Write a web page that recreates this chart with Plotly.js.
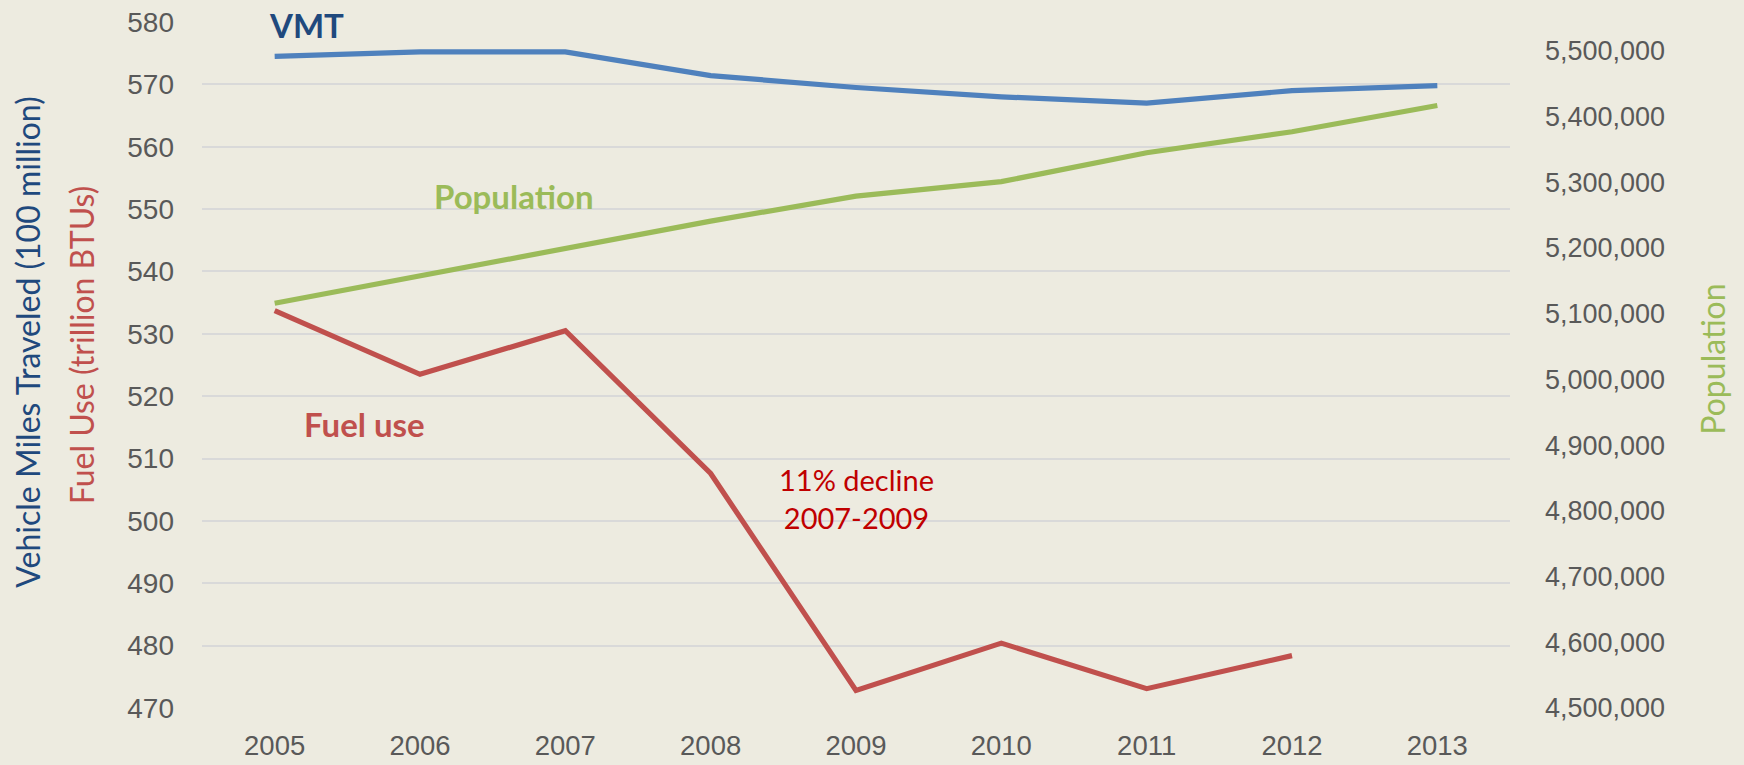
<!DOCTYPE html>
<html>
<head>
<meta charset="utf-8">
<script src="https://cdn.plot.ly/plotly-3.0.1.min.js"></script>
<style>
  html, body { margin: 0; padding: 0; background: #EDEBE0; }
  #chart { width: 1744px; height: 765px; }
</style>
</head>
<body>
<div id="chart"></div>
<script>
// ---- Data ----
const years = ['2005', '2006', '2007', '2008', '2009', '2010', '2011', '2012', '2013'];
const vmt = [574.5, 575.2, 575.2, 571.4, 569.5, 568.0, 567.0, 569.0, 569.8];          // 100 million miles
const fuelUse = [533.7, 523.5, 530.5, 507.6, 472.8, 480.4, 473.1, 478.4, null];         // trillion BTUs
const population = [5116000, 5158000, 5200000, 5241000, 5279000, 5301000, 5345000, 5377000, 5417000];

const leftTicks = [470, 480, 490, 500, 510, 520, 530, 540, 550, 560, 570, 580];
const rightTicks = [4500000, 4600000, 4700000, 4800000, 4900000, 5000000, 5100000, 5200000, 5300000, 5400000, 5500000];

// ---- Styles ----
const BG = '#EDEBE0';
const C_VMT = '#4F81BD', C_VMT_TXT = '#1F497D';
const C_POP = '#9BBB59';
const C_FUEL = '#C0504D';
const C_NOTE = '#C00000';
const TICK = '#595959';
const LW = 5.2;
const LABEL_FONT = 'Lato, "Open Sans", sans-serif';
const TICK_FONT = '"Liberation Sans", Arial, sans-serif';

const traces = [
  { x: years, y: vmt, type: 'scatter', mode: 'lines', name: 'VMT',
    line: { color: C_VMT, width: LW }, yaxis: 'y' },
  { x: years, y: population, type: 'scatter', mode: 'lines', name: 'Population',
    line: { color: C_POP, width: LW }, yaxis: 'y2' },
  { x: years, y: fuelUse, type: 'scatter', mode: 'lines', name: 'Fuel use',
    line: { color: C_FUEL, width: LW }, yaxis: 'y', connectgaps: false }
];

const layout = {
  width: 1744, height: 765,
  paper_bgcolor: BG, plot_bgcolor: BG,
  showlegend: false,
  margin: { l: 202, r: 234, t: 22, b: 57, pad: 0 },
  xaxis: {
    type: 'category', range: [-0.5, 8.5],
    showgrid: false, zeroline: false, showline: false, ticks: '',
    tickfont: { family: TICK_FONT, size: 27.5, color: TICK },
    ticklabelstandoff: 18
  },
  yaxis: {
    range: [470, 580], tickvals: leftTicks,
    showgrid: true, gridcolor: '#D9D9D9', gridwidth: 2,
    zeroline: false, showline: false, ticks: '',
    tickfont: { family: TICK_FONT, size: 28, color: TICK },
    ticklabelstandoff: 27
  },
  yaxis2: {
    overlaying: 'y', side: 'right',
    range: [4500000, 5544000], tickvals: rightTicks, tickformat: ',d',
    showgrid: false, zeroline: false, showline: false, ticks: '',
    tickfont: { family: TICK_FONT, size: 27, color: TICK },
    ticklabelstandoff: 34
  },
  annotations: [
    { text: 'Vehicle Miles Traveled (100 million)', xref: 'paper', yref: 'paper',
      x: -0.133, y: 0.5326, xanchor: 'center', yanchor: 'middle', textangle: -90,
      showarrow: false, font: { family: LABEL_FONT, size: 32, color: C_VMT_TXT } },
    { text: 'Fuel Use (trillion BTUs)', xref: 'paper', yref: 'paper',
      x: -0.0921, y: 0.5282, xanchor: 'center', yanchor: 'middle', textangle: -90,
      showarrow: false, font: { family: LABEL_FONT, size: 32, color: C_FUEL } },
    { text: 'Population', xref: 'paper', yref: 'paper',
      x: 1.1552, y: 0.5078, xanchor: 'center', yanchor: 'middle', textangle: -90,
      showarrow: false, font: { family: LABEL_FONT, size: 32, color: C_POP } },
    { text: '<b>VMT</b>', xref: 'x', yref: 'y', x: 0.216, y: 579.5,
      xanchor: 'center', yanchor: 'middle', showarrow: false,
      font: { family: LABEL_FONT, size: 33, color: C_VMT_TXT } },
    { text: '<b>Population</b>', xref: 'x', yref: 'y', x: 1.647, y: 552.1,
      xanchor: 'center', yanchor: 'middle', showarrow: false,
      font: { family: LABEL_FONT, size: 33, color: C_POP } },
    { text: '<b>Fuel use</b>', xref: 'x', yref: 'y', x: 0.62, y: 515.5,
      xanchor: 'center', yanchor: 'middle', showarrow: false,
      font: { family: LABEL_FONT, size: 33, color: C_FUEL } },
    { text: '11% decline<br>2007-2009', xref: 'x', yref: 'y', x: 4.0, y: 503.6,
      xanchor: 'center', yanchor: 'middle', showarrow: false, align: 'center',
      font: { family: LABEL_FONT, size: 29, color: C_NOTE } }
  ]
};

Plotly.newPlot('chart', traces, layout, { staticPlot: true, displayModeBar: false });
</script>
</body>
</html>
